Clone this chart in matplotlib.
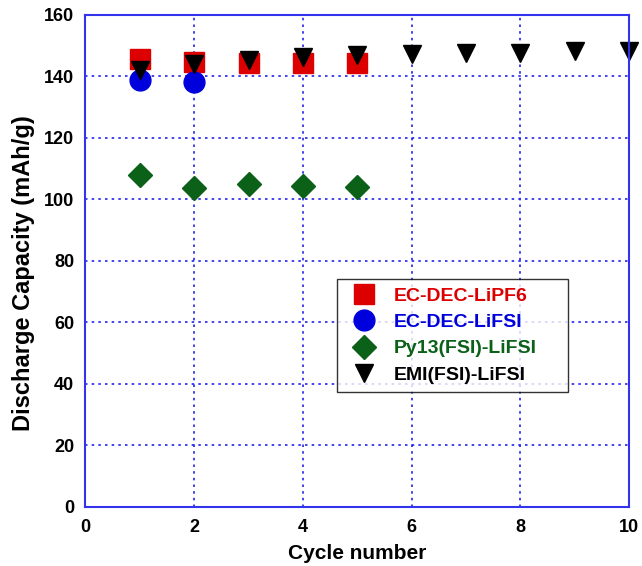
import matplotlib
matplotlib.use("Agg")
import matplotlib.pyplot as plt

plt.rcParams['font.family'] = ['Liberation Sans', 'DejaVu Sans']
plt.rcParams['font.weight'] = 'bold'

# Datos
cycles_short = [1, 2, 3, 4, 5]
cycles_two = [1, 2]
cycles_long = [1, 2, 3, 4, 5, 6, 7, 8, 9, 10]

lipf6 = [145.7, 144.6, 144.3, 144.3, 144.3]
lifsi = [138.7, 138.0]
py13 = [107.8, 103.5, 104.9, 104.3, 103.9]
emi = [142.1, 144.1, 145.4, 146.4, 147.0, 147.2, 147.6, 147.6, 148.1, 148.3]

labels = ['EC-DEC-LiPF6', 'EC-DEC-LiFSI', 'Py13(FSI)-LiFSI', 'EMI(FSI)-LiFSI']
colors = ['#dd0000', '#0000dd', '#0b6118', 'black']

fig = plt.figure(figsize=(6.42, 5.66), dpi=100)
ax = fig.add_axes([0.133, 0.105, 0.847, 0.869])

ax.plot(cycles_short, lipf6, 's', color=colors[0], ms=15, label=labels[0])
ax.plot(cycles_two, lifsi, 'o', color=colors[1], ms=15, label=labels[1])
ax.plot(cycles_short, py13, 'D', color=colors[2], ms=12, label=labels[2])
ax.plot(cycles_long, emi, 'v', color=colors[3], ms=13, label=labels[3], clip_on=False)

ax.set_xlim(0, 10)
ax.set_ylim(0, 160)
ax.set_xticks(range(0, 11, 2))
ax.set_yticks(range(0, 161, 20))
ax.grid(True, color='#2222ee', linestyle=(0, (1.5, 2.5)), linewidth=1.2)
ax.set_axisbelow(True)
for s in ax.spines.values():
    s.set_color('#3333ee')
    s.set_linewidth(1.5)
ax.tick_params(length=0, labelsize=13, pad=8)
ax.tick_params(axis='x', pad=9)
for t in ax.get_xticklabels() + ax.get_yticklabels():
    t.set_fontweight('bold')

ax.set_xlabel('Cycle number', fontsize=15, fontweight='bold', labelpad=6)
ax.set_ylabel('Discharge Capacity (mAh/g)', fontsize=17, fontweight='bold')
ax.yaxis.set_label_coords(-0.093, 0.4745)

# Leyenda con ancho fijo
leg = ax.legend(loc='upper left', bbox_to_anchor=(0.463, 0.0, 0.4246, 0.462),
                mode='expand', borderaxespad=0, fontsize=14,
                frameon=True, fancybox=False, edgecolor='black', handletextpad=0.5,
                borderpad=0.4, labelspacing=0.45, numpoints=1)
leg.get_frame().set_linewidth(1.0)
for txt, c in zip(leg.get_texts(), colors):
    txt.set_color(c)
    txt.set_fontweight('bold')

fig.savefig('out.png', dpi=100)
